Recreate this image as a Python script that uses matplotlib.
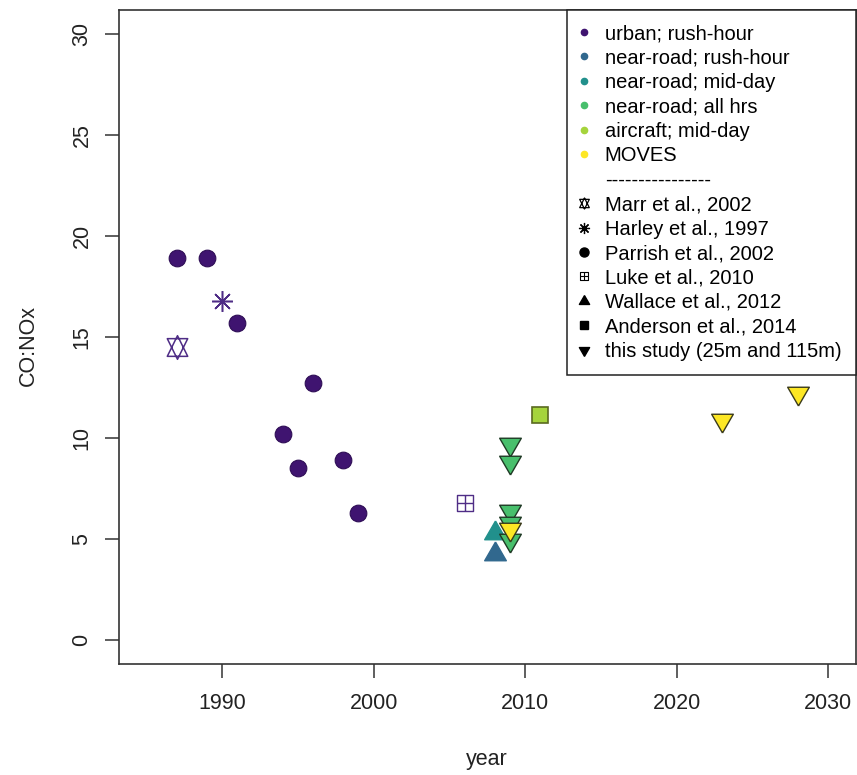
import numpy as np
import matplotlib.pyplot as plt
from matplotlib.path import Path
from matplotlib.lines import Line2D

plt.rcParams['font.family'] = ['Liberation Sans', 'DejaVu Sans']

# category colours (viridis-like)
c_urban = '#3f1470'
c_nr_rush = '#31688E'
c_nr_mid = '#21908C'
c_nr_all = '#48bf6c'
c_air = '#a5d43c'
c_moves = '#FDE725'
c_thin = '#4f2d86'

categories = ['urban; rush-hour', 'near-road; rush-hour', 'near-road; mid-day',
              'near-road; all hrs', 'aircraft; mid-day', 'MOVES']
cat_colors = [c_urban, c_nr_rush, c_nr_mid, c_nr_all, c_air, c_moves]

# Parrish et al., 2002 (urban; rush-hour)
parrish_yr = [1987, 1989, 1991, 1994, 1995, 1996, 1998, 1999]
parrish_val = [18.9, 18.9, 15.7, 10.2, 8.5, 12.7, 8.9, 6.3]
# Marr et al., 2002
marr_yr = [1987]
marr_val = [14.5]
# Harley et al., 1997
harley_yr = [1990]
harley_val = [16.8]
# Luke et al., 2010
luke_yr = [2006]
luke_val = [6.8]
# Wallace et al., 2012
wallace_yr = [2008, 2008]
wallace_val = [5.3, 4.25]
wallace_col = [c_nr_mid, c_nr_rush]
# Anderson et al., 2014
anderson_yr = [2011]
anderson_val = [11.15]
# this study (25m and 115m), near-road all hrs
study_yr = [2009, 2009, 2009, 2009, 2009]
study_val = [9.7, 8.8, 6.4, 5.8, 4.95]
# MOVES
moves_yr = [2009, 2023, 2028]
moves_val = [5.5, 10.9, 12.25]

# R-like marker shapes
tri_up = [(0, 1.555), (1.347, -0.778), (-1.347, -0.778), (0, 1.555)]
tri_dn = [(0, -1.555), (1.347, 0.778), (-1.347, 0.778), (0, -1.555)]
hexa = Path([(0, 1.555), (1.347, -1.166), (-1.347, -1.166), (0, 1.555),
             (0, -1.555), (1.347, 1.166), (-1.347, 1.166), (0, -1.555)],
            [Path.MOVETO, Path.LINETO, Path.LINETO, Path.CLOSEPOLY,
             Path.MOVETO, Path.LINETO, Path.LINETO, Path.CLOSEPOLY])
sqplus = Path([(-1, -1), (1, -1), (1, 1), (-1, 1), (-1, -1),
               (-1, 0), (1, 0), (0, -1), (0, 1)],
              [Path.MOVETO, Path.LINETO, Path.LINETO, Path.LINETO, Path.CLOSEPOLY,
               Path.MOVETO, Path.LINETO, Path.MOVETO, Path.LINETO])

fig = plt.figure(figsize=(8.57, 7.75), dpi=100)
ax = fig.add_axes([119/857, 1-664/775, 736.5/857, 654/775])

ax.plot(parrish_yr, parrish_val, 'o', color=c_urban, ms=12, mec='#2e0d55', mew=0.8, ls='none')
ax.plot(marr_yr, marr_val, marker=hexa, color=c_thin, mfc='none', ms=17, mew=1.1, ls='none')
ax.plot(harley_yr, harley_val, marker=(8, 2, 0), color=c_thin, ms=15, mew=1.1, ls='none')
ax.plot(luke_yr, luke_val, marker=sqplus, color=c_thin, mfc='none', ms=12, mew=1.0, ls='none')
for x, y, c in zip(wallace_yr, wallace_val, wallace_col):
    ax.plot([x], [y], marker=tri_up, color=c, mec=c, ms=18, ls='none')
ax.plot(anderson_yr, anderson_val, 's', color=c_air, mec='#5a6a20', mew=1.2, ms=11, ls='none')
ax.plot(study_yr, study_val, marker=tri_dn, color=c_nr_all, mec='#1f3a25', mew=1.0, ms=18, ls='none')
ax.plot(moves_yr, moves_val, marker=tri_dn, color=c_moves, mec='#3a3a1a', mew=1.0, ms=18, ls='none')

ax.set_xlim(1983.2, 2031.8)
ax.set_ylim(-1.2, 31.2)
ax.set_xticks([1990, 2000, 2010, 2020, 2030])
ax.set_yticks([0, 5, 10, 15, 20, 25, 30])
ax.tick_params(axis='both', length=10, width=1.1, colors='#333333', labelcolor='#222222',
               labelsize=15.5, direction='out')
ax.tick_params(axis='y', labelrotation=90, pad=9)
ax.tick_params(axis='x', pad=11)
for lab in ax.get_yticklabels():
    lab.set_va('center')
for s in ax.spines.values():
    s.set_linewidth(1.2)
    s.set_color('#333333')

fig.text(28/857, 1-345/775, 'CO:NOx', rotation=90, ha='center', va='center', fontsize=15.5, color='#222222')
fig.text(487/857, 1-760/775, 'year', ha='center', va='center', fontsize=15.5, color='#222222')

handles = [Line2D([], [], marker='o', ls='none', color=c, mec=c, ms=4.5, label=l)
           for l, c in zip(categories, cat_colors)]
handles.append(Line2D([], [], ls='none', label='----------------'))
handles += [
    Line2D([], [], marker=hexa, ls='none', color='black', mfc='none', ms=8, mew=0.9, label='Marr et al., 2002'),
    Line2D([], [], marker=(8, 2, 0), ls='none', color='black', ms=8, mew=0.9, label='Harley et al., 1997'),
    Line2D([], [], marker='o', ls='none', color='black', ms=6.5, label='Parrish et al., 2002'),
    Line2D([], [], marker=sqplus, ls='none', color='black', mfc='none', ms=6, mew=0.8, label='Luke et al., 2010'),
    Line2D([], [], marker=tri_up, ls='none', color='black', ms=8.5, label='Wallace et al., 2012'),
    Line2D([], [], marker='s', ls='none', color='black', ms=6, label='Anderson et al., 2014'),
    Line2D([], [], marker=tri_dn, ls='none', color='black', ms=8.5, label='this study (25m and 115m)'),
]
leg = ax.legend(handles=handles, loc='upper right', borderaxespad=0, fontsize=14.5,
                frameon=True, fancybox=False, edgecolor='#222222', framealpha=1,
                borderpad=0.7, handlelength=0.3, handletextpad=0.9, labelspacing=0.27)
leg.get_frame().set_linewidth(1.1)

fig.savefig('out.png', dpi=100)
